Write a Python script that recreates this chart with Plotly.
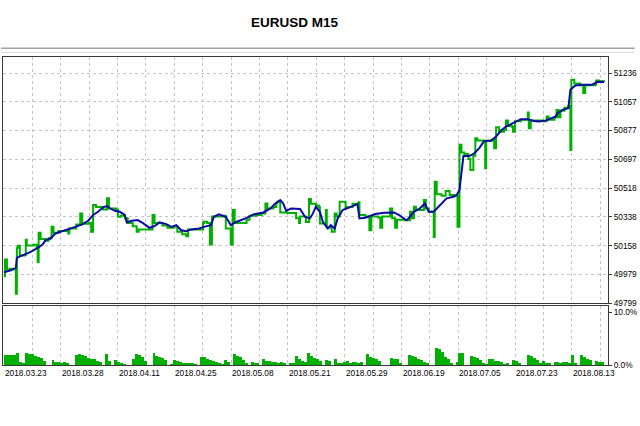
import plotly.graph_objects as go

# ---------------- data ----------------
title_text = "EURUSD M15"

# balance curve: deal index -> balance
balance_idx = [0, 7, 12, 13, 15, 22, 27, 34, 39, 42, 47, 52, 59, 65, 72, 79, 85, 90, 95, 100,
               104, 107, 112, 117, 122, 124, 129, 135, 140, 147, 152, 157, 164, 169, 174, 179,
               184, 189, 197, 202, 209, 212, 217, 224, 229, 235, 244, 252, 262, 269, 274, 279,
               282, 285, 290, 299, 304, 309, 312, 315, 319, 322, 327, 330, 334, 337, 342, 349,
               357, 359, 365, 375, 384, 394, 399, 405, 407, 414, 420, 425, 429, 434, 440, 447,
               454, 457, 460, 462, 464, 470, 475, 480, 485, 492, 497, 502, 507, 514, 522, 529,
               535, 540, 547, 552, 557, 559, 564, 570, 572, 577, 584, 594, 599, 604, 606]
balance_val = [49993, 50005, 50020, 50083, 50089, 50105, 50120, 50145, 50166, 50193, 50203, 50235,
               50251, 50260, 50276, 50291, 50314, 50350, 50370, 50398, 50406, 50392, 50376, 50370,
               50350, 50304, 50314, 50318, 50301, 50270, 50280, 50304, 50293, 50276, 50287, 50255,
               50249, 50260, 50266, 50276, 50287, 50339, 50354, 50339, 50287, 50308, 50329, 50354,
               50366, 50391, 50422, 50443, 50422, 50376, 50391, 50387, 50339, 50329, 50360, 50402,
               50370, 50308, 50266, 50287, 50266, 50329, 50381, 50398, 50418, 50329, 50333, 50356,
               50364, 50366, 50350, 50323, 50318, 50370, 50391, 50422, 50370, 50370, 50412, 50454,
               50464, 50474, 50506, 50610, 50718, 50718, 50735, 50767, 50812, 50814, 50839, 50877,
               50902, 50923, 50948, 50948, 50937, 50933, 50939, 50952, 50964, 50986, 51006, 51017,
               51131, 51158, 51163, 51163, 51180, 51182, 51178]

# equity curve: deal index -> equity
equity_idx = [0, 1, 3, 6, 10, 12, 13, 14, 16, 21, 22, 23, 30, 33, 34, 35, 37, 42, 45, 48,
              50, 55, 62, 65, 66, 73, 77, 79, 86, 88, 90, 93, 100, 104, 106, 113, 115, 118,
              122, 125, 130, 134, 136, 147, 150, 152, 160, 165, 172, 175, 180, 184, 186, 200,
              201, 202, 205, 208, 210, 222, 224, 229, 231, 233, 245, 248, 255, 260, 264, 266,
              272, 275, 276, 279, 286, 295, 298, 299, 305, 308, 310, 315, 318, 319, 324, 325,
              326, 330, 331, 334, 336, 339, 345, 352, 358, 359, 365, 369, 371, 378, 380, 382,
              390, 392, 395, 397, 405, 410, 412, 414, 416, 420, 424, 426, 429, 434, 435, 437,
              442, 446, 450, 455, 458, 460, 462, 465, 469, 471, 474, 476, 478, 484, 486, 487,
              493, 495, 497, 500, 505, 507, 509, 513, 514, 516, 522, 529, 530, 532, 545, 548,
              550, 556, 558, 560, 562, 566, 570, 572, 573, 576, 582, 585, 587, 597, 598, 601, 606]
equity_val = [49968, 50072, 50010, 50015, 50012, 49859, 50145, 50158, 50098, 50100, 50196, 50160,
              50165, 50150, 50057, 50239, 50200, 50190, 50205, 50276, 50240, 50250, 50250, 50235,
              50265, 50290, 50360, 50295, 50300, 50245, 50412, 50400, 50385, 50454, 50390, 50385,
              50339, 50345, 50330, 50300, 50280, 50245, 50260, 50260, 50350, 50300, 50285, 50270,
              50280, 50245, 50230, 50217, 50260, 50260, 50300, 50308, 50300, 50166, 50340, 50345,
              50266, 50166, 50381, 50300, 50320, 50345, 50350, 50360, 50422, 50390, 50400, 50425,
              50432, 50366, 50362, 50330, 50300, 50340, 50306, 50450, 50420, 50410, 50400, 50297,
              50297, 50381, 50270, 50275, 50245, 50360, 50340, 50432, 50400, 50420, 50430, 50350,
              50340, 50255, 50340, 50335, 50270, 50340, 50391, 50330, 50270, 50320, 50318, 50370,
              50330, 50402, 50381, 50381, 50443, 50390, 50370, 50213, 50558, 50480, 50470, 50500,
              50475, 50470, 50276, 50788, 50740, 50730, 50700, 50631, 50720, 50829, 50815, 50810,
              50642, 50815, 50820, 50767, 50898, 50870, 50880, 50939, 50905, 50900, 50870, 50935,
              50945, 50989, 50892, 50940, 50935, 50964, 50945, 50960, 51005, 50960, 51000, 51020,
              51030, 50756, 51194, 51170, 51160, 51111, 51160, 51165, 51190, 51185, 51180]

# lower panel: load / drawdown percent, one bar per 3 deals
dd_pct = [1.9, 2.0, 1.9, 1.9, 2.3, 0.7, 0.4, 2.3, 2.2, 2.1, 1.8, 1.5, 1.3, 0.9, 0, 0, 1.0, 0.6,
          0.7, 0.5, 0.6, 0.5, 0, 0, 2.0, 2.1, 1.9, 1.7, 1.4, 1.2, 1.1, 0.8, 0.7, 0, 2.1, 0.9,
          0, 1.0, 0.6, 0.4, 0.3, 0, 0, 1.2, 2.2, 2.0, 1.5, 0.9, 0, 0, 2.3, 1.8, 1.6, 1.3,
          1.0, 0, 0.3, 1.0, 0.8, 0.7, 0.5, 0.5, 0.4, 0.5, 0.3, 0, 1.6, 1.5, 1.2, 1.0, 0.9, 0.6,
          0.4, 0.3, 1.0, 0.7, 0, 2.2, 1.8, 1.6, 1.0, 0.4, 0, 0.6, 0.5, 0.4, 0, 1.2, 0.9, 0.8,
          0.7, 0.6, 0.5, 0.7, 0.4, 0, 0.4, 0.4, 1.8, 1.2, 0.8, 0.6, 2.3, 1.7, 1.4, 1.1, 0.9, 0,
          1.0, 0.9, 0, 1.1, 0.5, 0.4, 0.6, 0.9, 0.5, 0.6, 0.6, 0.5, 0.6, 0, 2.2, 1.6, 1.4, 1.1,
          0.9, 0, 0, 0, 1.3, 1.2, 1.1, 0.5, 0, 0, 2.0, 1.8, 1.6, 1.1, 1.0, 0.7, 0.4, 0, 0,
          3.3, 3.0, 2.5, 1.6, 1.2, 0.5, 0, 0.7, 2.3, 2.3, 0, 0, 1.8, 1.6, 1.3, 1.0, 0.5, 0.3,
          1.2, 1.2, 0.9, 0.8, 0.7, 0.3, 0.5, 0, 1.0, 0.9, 0.5, 0, 0, 2.0, 1.7, 1.3, 1.0, 0.5,
          0.8, 0.5, 0.4, 0, 0.7, 0.7, 0.4, 0.7, 0.7, 0.4, 2.0, 0.4, 0, 2.0, 1.6, 1.2, 1.0, 0,
          0.8, 0.7, 0.6]
dd_step = 3

y_tick_vals = [49799, 49979, 50158, 50338, 50518, 50697, 50877, 51057, 51236]
y_tick_text = ["49799", "49979", "50158", "50338", "50518", "50697", "50877", "51057", "51236"]
dd_tick_vals = [0, 10]
dd_tick_text = ["0.0%", "10.0%"]
date_labels = ["2018.03.23", "2018.03.28", "2018.04.11", "2018.04.25", "2018.05.08",
               "2018.05.21", "2018.05.29", "2018.06.19", "2018.07.05", "2018.07.23", "2018.08.13"]

# ---------------- styling / layout ----------------
W, H = 640, 426
M_L, M_R, M_T, M_B = 2, 27, 57, 61
X_RANGE = [-1, 610]
Y_RANGE = [49799, 51336]
DD_RANGE = [0, 11.2]
GRID_STEP = 28.68
plot_h = H - M_T - M_B
main_bottom = (H - M_B - 303.3) / plot_h
low_top = (H - M_B - 305.7) / plot_h

grid_pos = [GRID_STEP * k for k in range(22)]
date_pos = grid_pos[0::2]

GREEN = "#00B000"
BLUE = "#0A0AA6"
GRID = "#c4c4c4"
FONT = "Liberation Sans, Arial, sans-serif"

fig = go.Figure()
fig.add_trace(go.Scatter(x=equity_idx, y=equity_val, mode="lines",
                         line=dict(color=GREEN, width=2, shape="hv"), xaxis="x", yaxis="y",
                         hoverinfo="skip"))
fig.add_trace(go.Scatter(x=balance_idx, y=balance_val, mode="lines",
                         line=dict(color=BLUE, width=2), xaxis="x", yaxis="y",
                         hoverinfo="skip"))
dd_x = [dd_step * i + dd_step / 2 for i in range(len(dd_pct))]
fig.add_trace(go.Bar(x=dd_x, y=dd_pct, width=dd_step, marker=dict(color=GREEN, line=dict(width=0)),
                     xaxis="x2", yaxis="y2", hoverinfo="skip"))

axis_common = dict(showline=True, mirror=True, linecolor="#383838", linewidth=1, zeroline=False)

fig.update_layout(
    width=W, height=H,
    margin=dict(l=M_L, r=M_R, t=M_T, b=M_B, pad=0),
    paper_bgcolor="white", plot_bgcolor="white",
    showlegend=False, bargap=0,
    font=dict(family=FONT, size=8, color="black"),
    xaxis=dict(domain=[0, 1], range=X_RANGE, anchor="y", tickmode="array", tickvals=grid_pos,
               showticklabels=False, ticks="", showgrid=True, gridcolor=GRID, griddash="3px,3px",
               gridwidth=1, **axis_common),
    yaxis=dict(domain=[main_bottom, 1], range=Y_RANGE, anchor="x", side="right",
               tickmode="array", tickvals=y_tick_vals, ticktext=y_tick_text,
               ticks="outside", ticklen=3, tickcolor="#383838",
               showgrid=True, gridcolor=GRID, griddash="3px,3px", gridwidth=1,
               tickfont=dict(family=FONT, size=8.3, color="black"), **axis_common),
    xaxis2=dict(domain=[0, 1], range=X_RANGE, anchor="y2", tickmode="array", tickvals=grid_pos,
                showticklabels=False, ticks="", showgrid=True, gridcolor=GRID, griddash="3px,3px",
                gridwidth=1, **axis_common),
    yaxis2=dict(domain=[0, low_top], range=DD_RANGE, anchor="x2", side="right",
                tickmode="array", tickvals=dd_tick_vals, ticktext=dd_tick_text,
                ticks="outside", ticklen=3, tickcolor="#383838", showgrid=False,
                tickfont=dict(family=FONT, size=8.3, color="black"), **axis_common),
)

annotations = []
for pos, lab in zip(date_pos, date_labels):
    annotations.append(dict(x=pos, xref="x2", y=(H - M_B - 366.5) / plot_h, yref="paper",
                            text=lab, showarrow=False, xanchor="left", yanchor="top",
                            font=dict(family=FONT, size=8.3, color="black"), borderpad=0))
annotations.append(dict(x=(297 - M_L) / (W - M_L - M_R), xref="paper",
                        y=(H - M_B - 22) / plot_h, yref="paper", text="<b>" + title_text + "</b>",
                        showarrow=False, xanchor="center", yanchor="middle",
                        font=dict(family=FONT, size=13.5, color="black")))
fig.update_layout(annotations=annotations)

x0p = (0 - M_L) / (W - M_L - M_R)
x1p = (W - M_L) / (W - M_L - M_R)
fig.update_layout(shapes=[
    dict(type="line", xref="paper", yref="paper", x0=x0p, x1=x1p,
         y0=(H - M_B - 48.3) / plot_h, y1=(H - M_B - 48.3) / plot_h,
         line=dict(color="#a0a0a0", width=1.5)),
    dict(type="line", xref="paper", yref="paper", x0=x0p, x1=x1p,
         y0=(H - M_B - 52.5) / plot_h, y1=(H - M_B - 52.5) / plot_h,
         line=dict(color="#dcdcdc", width=1)),
])

fig.write_html("out.html")
